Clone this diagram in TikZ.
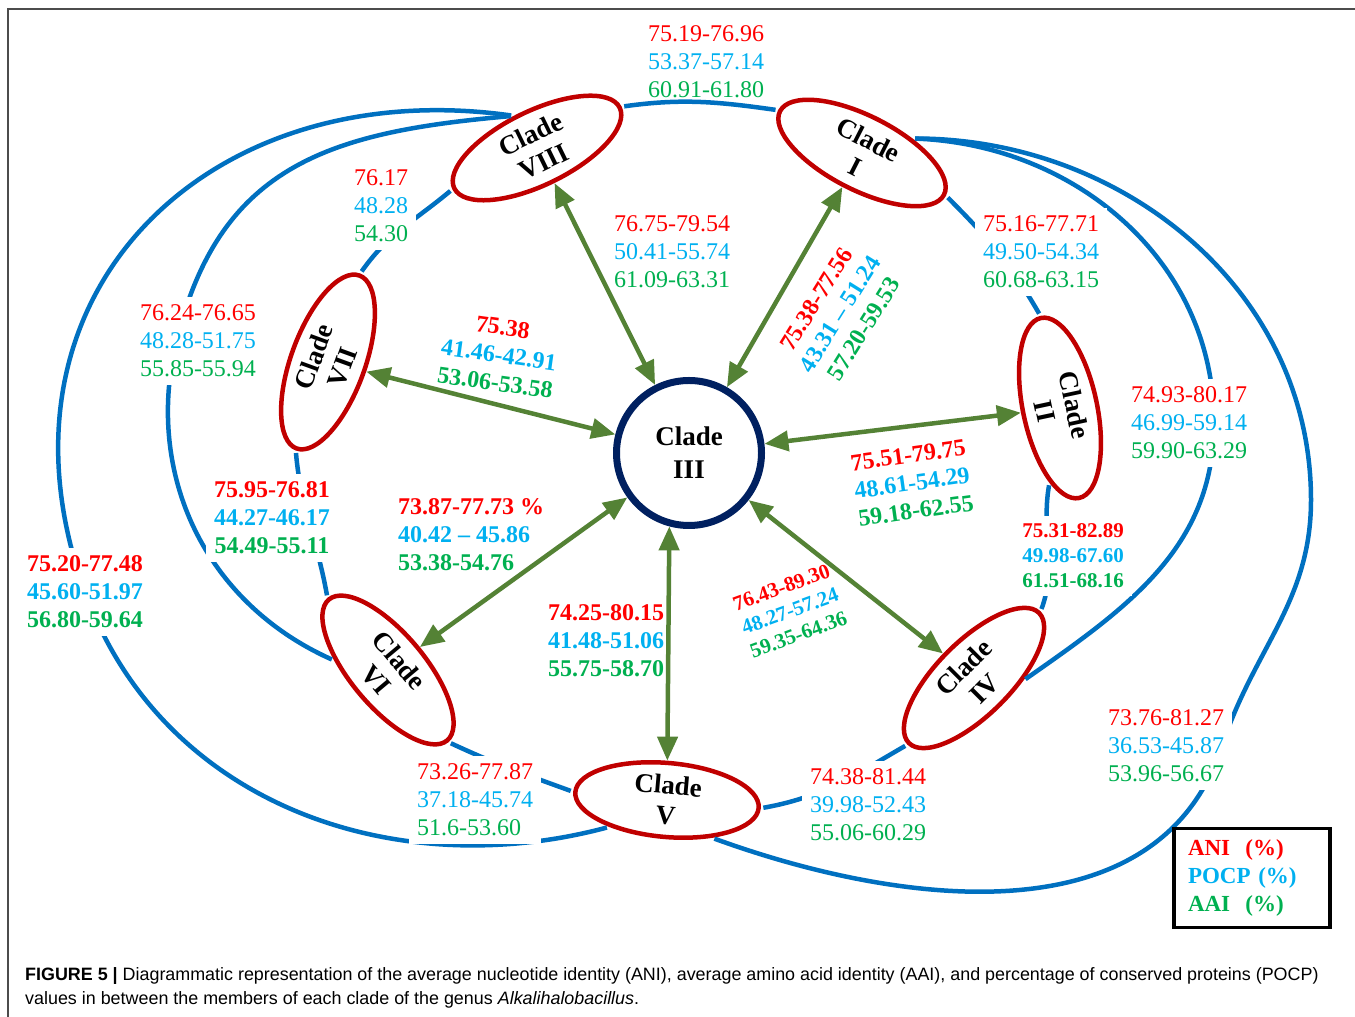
\documentclass[tikz,border=0pt]{standalone}
\usepackage{fontspec}
\setmainfont{Liberation Serif}
\newfontfamily\capfont{Liberation Sans}
\usetikzlibrary{arrows.meta}
\usetikzlibrary{shapes}

\definecolor{ani}{RGB}{255,0,0}
\definecolor{pocp}{RGB}{0,176,240}
\definecolor{aai}{RGB}{0,176,80}
\definecolor{ringred}{RGB}{192,0,0}
\definecolor{arcblue}{RGB}{0,112,192}
\definecolor{linkgreen}{RGB}{84,130,53}
\definecolor{navy}{RGB}{0,32,96}

\newcommand{\trio}[3]{\textcolor{ani}{#1}\\\textcolor{pocp}{#2}\\\textcolor{aai}{#3}}

\begin{document}
\begin{tikzpicture}[x=1pt, y=1pt]
\tikzset{
   >={Triangle[length=24pt, width=20pt]},
   clade/.style = {ellipse, draw = ringred, line width = 4.5pt, minimum width = 184pt, minimum height = 74pt, inner sep = 0pt, align = center, font = \fontsize{27}{30}\selectfont\bfseries},
   clade_mid/.style = {circle, draw = navy, line width = 7pt, minimum size = 145pt, inner sep = 0pt, align = center, font = \fontsize{27}{33}\selectfont\bfseries},
   link/.style = {<->, draw = linkgreen, line width = 4.5pt},
   ring/.style = {draw = arcblue, line width = 4.5pt, shorten < = 2.5pt, shorten > = 2.5pt},
   val/.style = {align = center, inner sep = 1pt, font = \fontsize{24}{28}\selectfont},
   val_bold/.style = {val, font = \fontsize{24}{28}\selectfont\bfseries},
   val_small/.style = {val, font = \fontsize{21}{25}\selectfont\bfseries},
   gapfill/.style = {fill = white, inner sep = 8pt}
 }
  \useasboundingbox (0,0) rectangle (1355,1017);
  \draw [gray!60!black, line width = 1.5pt] (8,0) -- (8,1008) -- (1355,1008);

  \node [clade_mid] (clade_3) at (689,564) {Clade\\III};

  \node [clade, rotate = -27] (clade_1) at (862,864) {Clade\\I}
        edge [link] (clade_3);
  \node [clade, rotate = -78] (clade_2) at (1060,609) {Clade\\II}
        edge [link] (clade_3);
  \node [clade, rotate = 45] (clade_4) at (974,339) {Clade\\IV}
        edge [link] (clade_3);
  \node [clade, rotate = -5] (clade_5) at (667,217) {Clade\\V}
        edge [link] (clade_3.-105);
  \node [clade, rotate = -50] (clade_6) at (388,347) {Clade\\VI}
        edge [link] (clade_3);
  \node [clade, rotate = 70] (clade_7) at (328,655) {Clade\\VII}
        edge [link] (clade_3);
  \node [clade, rotate = 26] (clade_8) at (537,869) {Clade\\VIII}
        edge [link] (clade_3);

  \coordinate (way_8_5) at (85,425);
  \coordinate (way_8_6) at (177,678);
  \coordinate (way_1_4) at (1214,594);
  \coordinate (bend_1_5) at (1311,517);
  \coordinate (way_1_5) at (1222,271);

  \draw [ring] (clade_8.east) to [out = 8, in = 172] (clade_1.west);
  \draw [ring] (clade_1.east) to [out = -45, in = 120] (clade_2.west);
  \draw [ring] (clade_2.-20) to [out = -100, in = 70] (clade_4.east);
  \draw [ring] (clade_4.west) to [out = 210, in = 10] (clade_5.east);
  \draw [ring] (clade_5.west) to [out = 160, in = -25] (clade_6.east);
  \draw [ring] (clade_6.west) to [out = 100, in = -85] (clade_7.west);
  \draw [ring] (clade_7.east) to [out = 55, in = -140] (clade_8.west);

  \draw [ring] (clade_8.100) to [out = 172, in = 110, looseness = 1.25] (way_8_5)
        to [out = -70, in = 195] (clade_5.210);
  \draw [ring] (clade_8.100) to [out = 185, in = 76, looseness = 1.15] (way_8_6)
        to [out = -104, in = 156] (clade_6.220);
  \draw [ring] (clade_1.43) to [out = -2, in = 90] (way_1_4)
        to [out = -90, in = 35] (clade_4.-48);
  \draw [ring] (clade_1.43) to [out = 0, in = 90] (bend_1_5)
        to [out = -90, in = 72] (way_1_5)
        to [out = -108, in = -20] (clade_5.-35);

  \node [val] (val_8_1) at (706,955) {\trio{75.19-76.96}{53.37-57.14}{60.91-61.80}};
  \node [val, gapfill] (val_7_8) at (381,811) {\trio{76.17}{48.28}{54.30}};
  \node [val] (val_8_3) at (672,765) {\trio{76.75-79.54}{50.41-55.74}{61.09-63.31}};
  \node [val_bold, rotate = 58] (val_1_3) at (840,703) {\trio{75.38-77.56}{43.31 -- 51.24}{57.20-59.53}};
  \node [val, gapfill] (val_1_2) at (1041,765) {\trio{75.16-77.71}{49.50-54.34}{60.68-63.15}};
  \node [val, gapfill] (val_8_6) at (198,676) {\trio{76.24-76.65}{48.28-51.75}{55.85-55.94}};
  \node [val_bold, rotate = -8] (val_7_3) at (499,662) {\trio{75.38}{41.46-42.91}{53.06-53.58}};
  \node [val, gapfill] (val_1_4) at (1189,594) {\trio{74.93-80.17}{46.99-59.14}{59.90-63.29}};
  \node [val_bold, rotate = 8] (val_3_2) at (912,534) {\trio{75.51-79.75}{48.61-54.29}{59.18-62.55}};
  \node [val_bold, gapfill] (val_6_7) at (272,499) {\trio{75.95-76.81}{44.27-46.17}{54.49-55.11}};
  \node [val_bold, align = left, anchor = west] (val_6_3) at (397,482) {\trio{73.87-77.73 \%}{40.42 -- 45.86}{53.38-54.76}};
  \node [val_small, gapfill] (val_2_4) at (1073,461) {\trio{75.31-82.89}{49.98-67.60}{61.51-68.16}};
  \node [val_bold, gapfill] (val_8_5) at (way_8_5) {\trio{75.20-77.48}{45.60-51.97}{56.80-59.64}};
  \node [val_bold] (val_3_5) at (606,376) {\trio{74.25-80.15}{41.48-51.06}{55.75-58.70}};
  \node [val_small, rotate = 20] (val_3_4) at (790,406) {\trio{76.43-89.30}{48.27-57.24}{59.35-64.36}};
  \node [val, gapfill] (val_1_5) at (1166,271) {\trio{73.76-81.27}{36.53-45.87}{53.96-56.67}};
  \node [val, gapfill, align = left, anchor = west] (val_5_6) at (409,217) {\trio{73.26-77.87}{37.18-45.74}{51.6-53.60}};
  \node [val, gapfill] (val_4_5) at (868,212) {\trio{74.38-81.44}{39.98-52.43}{55.06-60.29}};

  \node [draw, line width = 3.5pt, minimum width = 156pt, minimum height = 99pt, text width = 128pt, inner xsep = 14pt, align = left, font = \fontsize{23}{28}\selectfont\bfseries] (legend) at (1252,139)
        {\textcolor{ani}{ANI~~(\%)}\\\textcolor{pocp}{POCP (\%)}\\\textcolor{aai}{AAI~~(\%)}};

  \node [anchor = west, align = left, inner sep = 0pt, font = \capfont\fontsize{17.9}{24}\selectfont] (caption) at (25,29)
        {\textbf{FIGURE 5 |} Diagrammatic representation of the average nucleotide identity (ANI), average amino acid identity (AAI), and percentage of conserved proteins (POCP)\\values in between the members of each clade of the genus \textit{Alkalihalobacillus}.};

\end{tikzpicture}
\end{document}
